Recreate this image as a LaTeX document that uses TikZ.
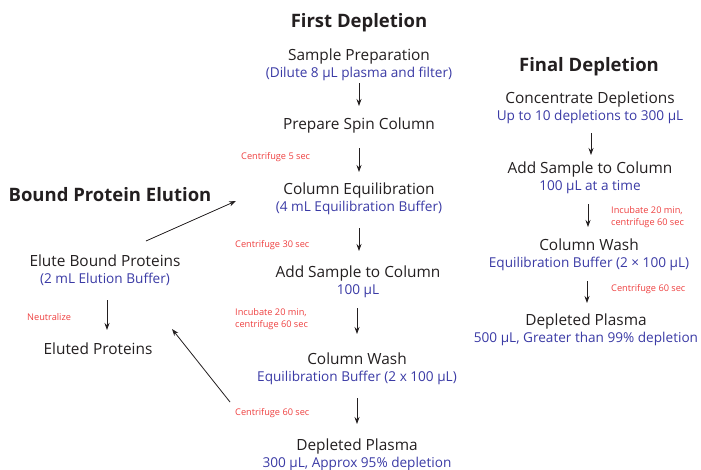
\documentclass[tikz,border=0pt]{standalone}
\usepackage{fontspec}
\setmainfont{Open Sans}
\usetikzlibrary{arrows.meta}
\definecolor{stepblue}{RGB}{58,58,165}
\definecolor{noteRed}{RGB}{238,64,64}
\definecolor{ink}{RGB}{35,31,32}
\tikzset{
  heading/.style={font=\fontsize{18.5}{20}\selectfont\bfseries, text=ink, inner sep=0pt},
  stepbox/.style={align=center, inner sep=1pt, text=ink, font=\fontsize{15.4}{18.5}\selectfont},
  note/.style={align=left, anchor=west, inner sep=0pt, text=noteRed, font=\fontsize{9.2}{12}\selectfont},
  flow/.style={draw=ink, line width=0.8pt, -{Stealth[length=7pt,width=5pt]}},
}
\newcommand{\sub}[1]{\\[-2pt]{\color{stepblue}\fontsize{13.6}{16}\selectfont #1}}
\begin{document}
\begin{tikzpicture}[x=1pt,y=-1pt]
\useasboundingbox (0,0) rectangle (701,469);

% First depletion column
\node[heading] (h1) at (359,23) {First Depletion};
\node[stepbox] (s1) at (359,65) {Sample Preparation\sub{(Dilute 8 µL plasma and filter)}};
\node[stepbox] (s2) at (359,125) {Prepare Spin Column};
\node[stepbox] (s3) at (359,199) {Column Equilibration\sub{(4 mL Equilibration Buffer)}};
\node[stepbox] (s4) at (358,282) {Add Sample to Column\sub{100 µL}};
\node[stepbox] (s5) at (357,369) {Column Wash\sub{Equilibration Buffer (2 x 100 µL)}};
\node[stepbox] (s6) at (357,455) {Depleted Plasma\sub{300 µL, Approx 95\% depletion}};

\coordinate (a1s) at (359,83);  \coordinate (a1e) at (359,106);
\coordinate (a2s) at (359,148); \coordinate (a2e) at (359,172);
\coordinate (a3s) at (359,228); \coordinate (a3e) at (359,251);
\coordinate (a4s) at (357,308); \coordinate (a4e) at (357,334);
\coordinate (a5s) at (357,398); \coordinate (a5e) at (357,424);
\draw[flow] (a1s) -- (a1e);
\draw[flow] (a2s) -- (a2e);
\draw[flow] (a3s) -- (a3e);
\draw[flow] (a4s) -- (a4e);
\draw[flow] (a5s) -- (a5e);

\node[note] (n2) at (241,157) {Centrifuge 5 sec};
\node[note] (n3) at (235,245) {Centrifuge 30 sec};
\node[note] (n4) at (235,319) {Incubate 20 min,\\centrifuge 60 sec};
\node[note] (n5) at (235,413) {Centrifuge 60 sec};

% Bound protein elution
\node[heading] (h2) at (110,195) {Bound Protein Elution};
\node[stepbox] (e1) at (105,270) {Elute Bound Proteins\sub{(2 mL Elution Buffer)}};
\node[stepbox] (e2) at (98,349) {Eluted Proteins};
\coordinate (b1s) at (107,300); \coordinate (b1e) at (107,330);
\draw[flow] (b1s) -- (b1e);
\node[note] (n6) at (27,317) {Neutralize};

\coordinate (c1s) at (146,241); \coordinate (c1e) at (236,201);
\draw[flow] (c1s) -- (c1e);
\coordinate (c2s) at (230,402); \coordinate (c2e) at (172,329);
\draw[flow] (c2s) -- (c2e);

% Final depletion column
\node[heading] (h3) at (589,67) {Final Depletion};
\node[stepbox] (f1) at (590,108) {Concentrate Depletions\sub{Up to 10 depletions to 300 µL}};
\node[stepbox] (f2) at (590,178) {Add Sample to Column\sub{100 µL at a time}};
\node[stepbox] (f3) at (589,255) {Column Wash\sub{Equilibration Buffer (2 × 100 µL)}};
\node[stepbox] (f4) at (586,330) {Depleted Plasma\sub{500 µL, Greater than 99\% depletion}};
\coordinate (d1s) at (591,133); \coordinate (d1e) at (591,155);
\coordinate (d2s) at (588,204); \coordinate (d2e) at (588,227);
\coordinate (d3s) at (587,281); \coordinate (d3e) at (587,303);
\draw[flow] (d1s) -- (d1e);
\draw[flow] (d2s) -- (d2e);
\draw[flow] (d3s) -- (d3e);
\node[note] (n7) at (611,217) {Incubate 20 min,\\centrifuge 60 sec};
\node[note] (n8) at (611,289) {Centrifuge 60 sec};
\end{tikzpicture}
\end{document}
